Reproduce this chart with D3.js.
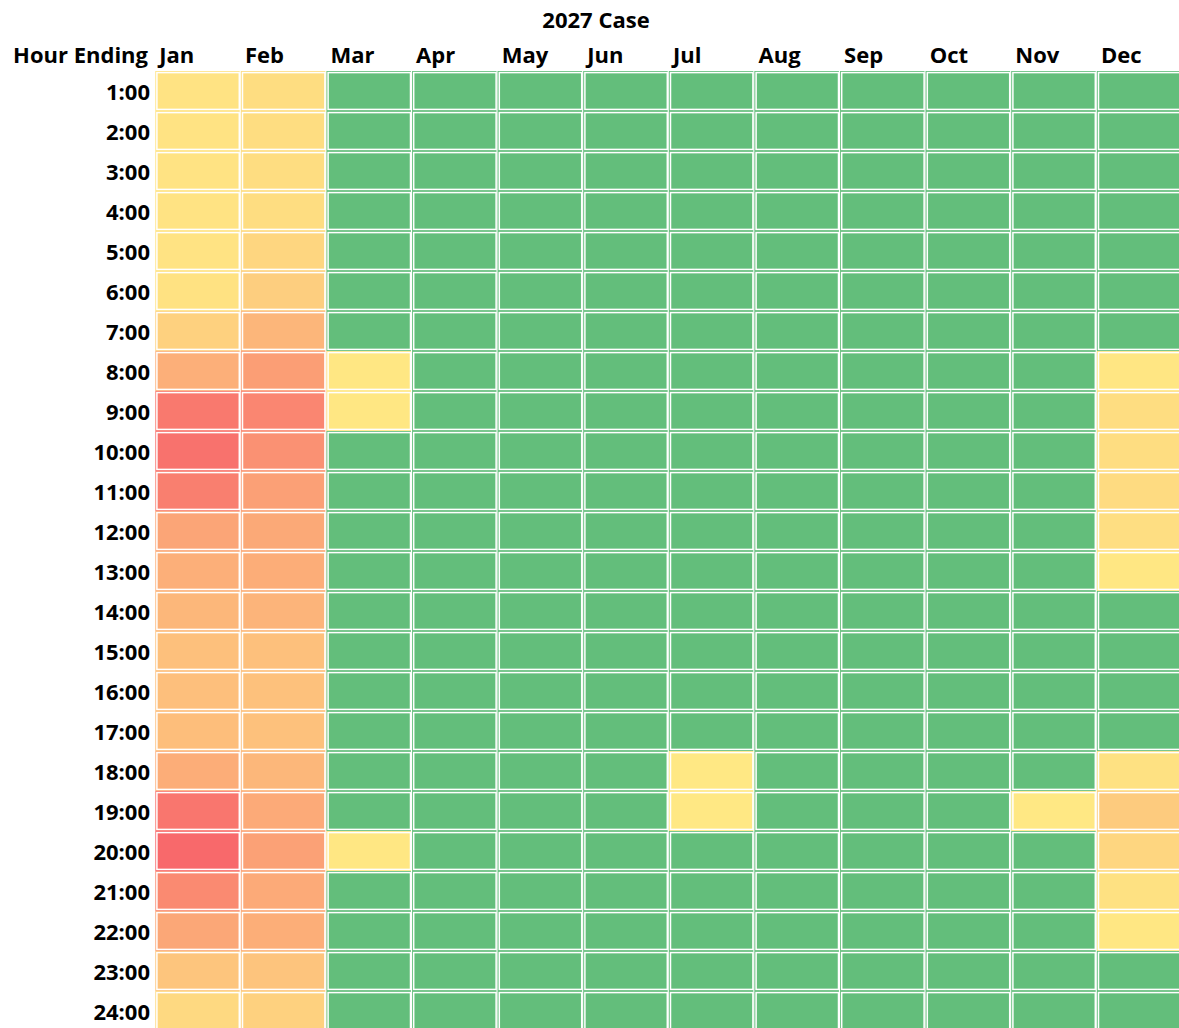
<!DOCTYPE html>
<html>
<head>
<meta charset="utf-8">
<script src="https://cdn.jsdelivr.net/npm/d3@7"></script>
<style>
  html, body { margin: 0; padding: 0; background: #fff; }
  svg { display: block; }
  text { font-family: "Open Sans", Lato, sans-serif; font-weight: 700; fill: #000; }
</style>
</head>
<body>
<svg id="chart" width="1179" height="1028"></svg>
<script>
const title = "2027 Case";
const rowHeader = "Hour Ending";
const months = ["Jan","Feb","Mar","Apr","May","Jun","Jul","Aug","Sep","Oct","Nov","Dec"];
const hours = ["1:00","2:00","3:00","4:00","5:00","6:00","7:00","8:00","9:00","10:00","11:00","12:00",
               "13:00","14:00","15:00","16:00","17:00","18:00","19:00","20:00","21:00","22:00","23:00","24:00"];

const jan = [6,6,6,6,6,7,20,46,88,93,83,54,46,40,33,34,35,48,90,100,75,52,29,14];
const feb = [11,11,11,11,16,22,41,59,78,69,58,51,48,42,33,32,32,40,50,57,50,47,30,20];
const mar = [0,0,0,0,0,0,0,3,3,0,0,0,0,0,0,0,0,0,0,3,0,0,0,0];
const apr = [0,0,0,0,0,0,0,0,0,0,0,0,0,0,0,0,0,0,0,0,0,0,0,0];
const may = [0,0,0,0,0,0,0,0,0,0,0,0,0,0,0,0,0,0,0,0,0,0,0,0];
const jun = [0,0,0,0,0,0,0,0,0,0,0,0,0,0,0,0,0,0,0,0,0,0,0,0];
const jul = [0,0,0,0,0,0,0,0,0,0,0,0,0,0,0,0,0,2,2,0,0,0,0,0];
const aug = [0,0,0,0,0,0,0,0,0,0,0,0,0,0,0,0,0,0,0,0,0,0,0,0];
const sep = [0,0,0,0,0,0,0,0,0,0,0,0,0,0,0,0,0,0,0,0,0,0,0,0];
const oct = [0,0,0,0,0,0,0,0,0,0,0,0,0,0,0,0,0,0,0,0,0,0,0,0];
const nov = [0,0,0,0,0,0,0,0,0,0,0,0,0,0,0,0,0,0,2,0,0,0,0,0];
const dec = [0,0,0,0,0,0,0,4,11,11,12,10,3,0,0,0,0,8,25,16,8,3,0,0];
const series = [jan,feb,mar,apr,may,jun,jul,aug,sep,oct,nov,dec];

const cells = [];
months.forEach((m, i) => hours.forEach((h, j) => cells.push({month: m, hour: h, value: series[i][j]})));

const svg = d3.select("#chart");
const gridLeft = 155.3, colW = 85.6, gridTop = 71, rowH = 40;

const x = d3.scaleBand().domain(months).range([gridLeft, gridLeft + colW * months.length]).padding(0);
const y = d3.scaleBand().domain(hours).range([gridTop, gridTop + rowH * hours.length]).padding(0);

const maxV = d3.max(cells, d => d.value);
const warm = d3.scaleLinear().domain([0, maxV]).range(["#FFEB84", "#F8696B"]).interpolate(d3.interpolateRgb);
const color = v => v <= 0 ? "#63BE7B" : warm(v);

const g = svg.append("g");
const cell = g.selectAll("g.cell").data(cells).join("g").attr("class", "cell");
cell.append("rect")
  .attr("x", d => x(d.month)).attr("y", d => y(d.hour))
  .attr("width", x.bandwidth()).attr("height", y.bandwidth())
  .attr("fill", d => color(d.value));
cell.append("rect")
  .attr("x", d => x(d.month) + 1.6).attr("y", d => y(d.hour) + 1.6)
  .attr("width", x.bandwidth() - 3.2).attr("height", y.bandwidth() - 3.2)
  .attr("fill", "none").attr("stroke", "#fff").attr("stroke-width", 1.5);
cell.append("line")
  .attr("x1", d => x(d.month) + x.bandwidth() - 0.6).attr("x2", d => x(d.month) + x.bandwidth() - 0.6)
  .attr("y1", d => y(d.hour)).attr("y2", d => y(d.hour) + y.bandwidth())
  .attr("stroke", "#fff").attr("stroke-width", 1.2);

// Title
svg.append("text").attr("x", 596).attr("y", 28).attr("text-anchor", "middle")
  .style("font-size", "22px").text(title);

// Header row
svg.append("text").attr("x", 148).attr("y", 63).attr("text-anchor", "end")
  .style("font-size", "22px").text(rowHeader);
svg.append("g").selectAll("text").data(months).join("text")
  .attr("x", d => x(d) + 4).attr("y", 63)
  .style("font-size", "22px").text(d => d);

// Hour labels
svg.append("g").selectAll("text").data(hours).join("text")
  .attr("x", 150).attr("y", d => y(d) + y.bandwidth() / 2 + 8.5)
  .attr("text-anchor", "end")
  .style("font-size", "22px").text(d => d);
</script>
</body>
</html>
